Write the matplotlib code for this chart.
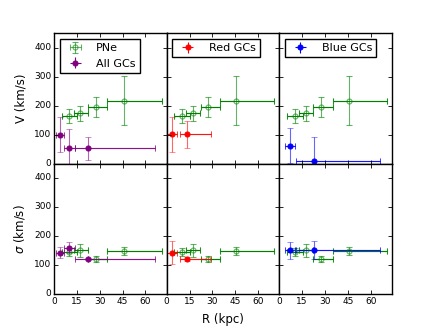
import matplotlib
matplotlib.use("Agg")
import matplotlib.pyplot as plt

# PNe (open green circles), same radial bins in every panel
r_pne = [10.1, 17.2, 27.4, 45.8]
r_pne_lo = [5.1, 4.2, 5.1, 10.8]
r_pne_hi = [5.2, 4.8, 7.6, 24.9]
v_pne = [164, 173, 195, 217]
v_pne_err = [25, 26, 35, 85]
s_pne = [145, 150, 120, 149]
s_pne_err = [15, 21, 10, 13]

# all GCs
r_all = [3.9, 9.5, 22.5]
r_all_lo = [2.6, 2.7, 8.5]
r_all_hi = [2.7, 4.5, 43.5]
v_all = [100, 52, 52]
v_all_err = [61, 68, 40]
s_all = [143, 160, 121]
s_all_err = [18, 19, 4]

# red GCs
r_red = [3.5, 13.6]
r_red_lo = [3.3, 4.6]
r_red_hi = [3.5, 15.7]
v_red = [101, 101]
v_red_err = [61, 47]
s_red = [142, 120]
s_red_err = [40, 8]

# blue GCs
r_blue = [6.8, 22.8]
r_blue_lo = [3.3, 11.8]
r_blue_hi = [3.7, 43.2]
v_blue = [61, 10]
v_blue_err = [60, 80]
s_blue = [151, 151]
s_blue_err = [29, 31]

xticks = [0, 15, 30, 45, 60]
yticks = [0, 100, 200, 300, 400]

plt.style.use("classic")
plt.rcParams["font.family"] = "DejaVu Sans"
plt.rcParams["mathtext.fontset"] = "dejavusans"

fig, axs = plt.subplots(2, 3, figsize=(4.36, 3.27), dpi=100, sharex=True, sharey=True)
fig.patch.set_facecolor("white")
fig.subplots_adjust(left=0.124, right=0.899, top=0.899, bottom=0.101, wspace=0, hspace=0)


def draw(ax, r, lo, hi, y, yerr, color, label, open_marker=False):
    kw = dict(capsize=2, elinewidth=0.8, markersize=3.6, markeredgewidth=0.8)
    if open_marker:
        h = ax.errorbar(r, y, yerr=yerr, xerr=[lo, hi], fmt="o", color=color,
                        mfc="none", mec=color, alpha=0.6, label=label, **kw)
        ax.errorbar(r, y, xerr=[lo, hi], fmt="none", ecolor=color, capsize=2, elinewidth=0.8)
    else:
        ax.errorbar(r, y, yerr=yerr, xerr=[lo, hi], fmt="none", ecolor=color,
                    alpha=0.6, capsize=2, elinewidth=0.8)
        ax.errorbar(r, y, xerr=[lo, hi], fmt="none", ecolor=color, capsize=2,
                    elinewidth=0.8, alpha=0.8)
        ax.errorbar(r, y, yerr=yerr, xerr=[lo, hi], fmt="o", color=color,
                    mfc=color, mec=color, alpha=1.0, ecolor="none", **kw)
        # legend handle with visible bars
        h = ax.errorbar([], [], yerr=[], xerr=[], fmt="o", color=color, mfc=color,
                        mec=color, label=label, **kw)
    return h


gc_sets = [
    (r_all, r_all_lo, r_all_hi, v_all, v_all_err, s_all, s_all_err, "purple", "All GCs"),
    (r_red, r_red_lo, r_red_hi, v_red, v_red_err, s_red, s_red_err, "red", "Red GCs"),
    (r_blue, r_blue_lo, r_blue_hi, v_blue, v_blue_err, s_blue, s_blue_err, "blue", "Blue GCs"),
]

for col, (r, lo, hi, v, ve, s, se, c, lab) in enumerate(gc_sets):
    top, bot = axs[0, col], axs[1, col]
    pne_lab = "PNe" if col == 0 else None
    hp = draw(top, r_pne, r_pne_lo, r_pne_hi, v_pne, v_pne_err, "green", pne_lab, open_marker=True)
    hg = draw(top, r, lo, hi, v, ve, c, lab)
    draw(bot, r_pne, r_pne_lo, r_pne_hi, s_pne, s_pne_err, "green", None, open_marker=True)
    draw(bot, r, lo, hi, s, se, c, None)
    handles = [hp, hg] if col == 0 else [hg]
    labels = ["PNe", lab] if col == 0 else [lab]
    top.legend(handles, labels, loc="upper left", numpoints=1, fontsize=8,
               borderpad=0.4, handlelength=2.0, handletextpad=0.9, frameon=True)

for ax in axs.flat:
    ax.set_xlim(0, 74)
    ax.set_ylim(0, 450)
    ax.set_xticks(xticks)
    ax.set_yticks(yticks)
    ax.tick_params(labelsize=6.5, length=3, width=0.6, pad=2)
    for sp in ax.spines.values():
        sp.set_linewidth(1.0)

axs[0, 0].set_ylabel("V (km/s)", fontsize=8.5)
axs[1, 0].set_ylabel(r"$\sigma$ (km/s)", fontsize=8.5)
axs[1, 1].set_xlabel("R (kpc)", fontsize=8.5)

fig.savefig("out.png", dpi=100, facecolor="white")
